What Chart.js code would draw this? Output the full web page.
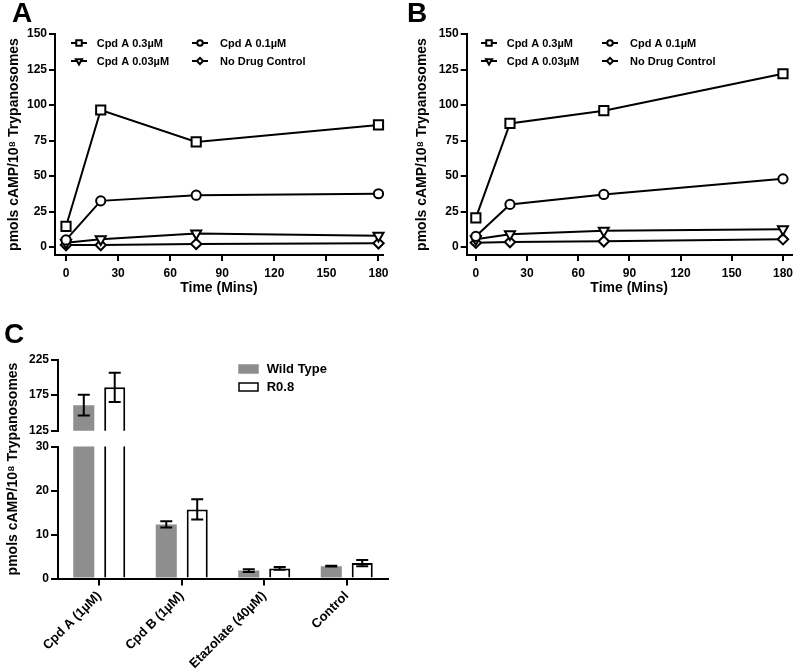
<!DOCTYPE html>
<html><head><meta charset="utf-8">
<script src="https://cdn.jsdelivr.net/npm/chart.js@4.4.1/dist/chart.umd.min.js"></script>
<style>
html,body{margin:0;padding:0;background:#fff;}
#wrap{position:relative;width:800px;height:672px;overflow:hidden;background:#fff;}
canvas{position:absolute;}
</style></head><body>
<div id="wrap">
<canvas id="cA" width="400" height="310" style="left:0;top:0"></canvas>
<canvas id="cB" width="400" height="310" style="left:400px;top:0"></canvas>
<canvas id="cCl" width="400" height="362" style="left:0;top:310px"></canvas>
<canvas id="cCu" width="400" height="130" style="left:0;top:310px"></canvas>
</div>
<script>
// ---------- data ----------
const times = [0, 20, 75, 180];
const seriesLabels = ['Cpd A 0.3µM', 'Cpd A 0.1µM', 'Cpd A 0.03µM', 'No Drug Control'];
const A_cpd03 = [14.5, 96.5, 74, 86];
const A_cpd01 = [5, 32.5, 36.5, 37.5];
const A_cpd003 = [3, 5.5, 9.5, 8];
const A_ctrl = [1.4, 1.4, 2.2, 2.6];
const B_cpd03 = [20.5, 87, 96, 122];
const B_cpd01 = [7.5, 30, 37, 48];
const B_cpd003 = [5.5, 9, 11.5, 12.5];
const B_ctrl = [3, 3.5, 4, 5.5];
const timeTicks = [0, 30, 60, 90, 120, 150, 180];
const yTicksAB = [0, 25, 50, 75, 100, 125, 150];

const categoriesC = ['Cpd A (1µM)', 'Cpd B (1µM)', 'Etazolate (40µM)', 'Control'];
const barLabels = ['Wild Type', 'R0.8'];
const wildType = [161, 12.3, 1.8, 2.8];
const wildTypeErr = [14.5, 0.7, 0.3, 0.1];
const r08 = [186, 15.7, 2.3, 3.5];
const r08Err = [20.5, 2.3, 0.3, 0.7];
const yTicksLow = [0, 10, 20, 30];
const yTicksHigh = [125, 175, 225];

const yTitleText = 'pmols cAMP/10⁸ Trypanosomes';
const xTitleText = 'Time (Mins)';

// ---------- styling ----------
const FONT = 'Arial, "Liberation Sans", Helvetica, sans-serif';
Chart.defaults.font.family = FONT;
Chart.defaults.font.weight = 'bold';
Chart.defaults.color = '#000';
Chart.defaults.animation = false;

const styles = [
  {pointStyle: 'rect', pointRotation: 0, pointRadius: 6.5},
  {pointStyle: 'circle', pointRotation: 0, pointRadius: 4.6},
  {pointStyle: 'triangle', pointRotation: 180, pointRadius: 5.8},
  {pointStyle: 'rectRot', pointRotation: 0, pointRadius: 5.2}
];

const letterPlugin = {
  id: 'panelLetter',
  afterDraw(chart, args, o) {
    const ctx = chart.ctx;
    ctx.save();
    ctx.font = 'bold 28px ' + FONT;
    ctx.fillStyle = '#000';
    ctx.textAlign = 'left';
    ctx.textBaseline = 'alphabetic';
    ctx.fillText(o.text, o.x, o.y);
    ctx.restore();
  }
};

const lineLegend = {
  id: 'lineLegend',
  afterDraw(chart, args, o) {
    const ctx = chart.ctx;
    ctx.save();
    chart.data.datasets.forEach((ds, i) => {
      const s = o.slots[i];
      ctx.strokeStyle = '#000';
      ctx.lineWidth = 2;
      ctx.beginPath();
      ctx.moveTo(s[0] - 8, s[1]);
      ctx.lineTo(s[0] + 8, s[1]);
      ctx.stroke();
      ctx.fillStyle = '#fff';
      Chart.helpers.drawPoint(ctx, {pointStyle: ds.pointStyle, rotation: ds.pointRotation,
        radius: ds.pointRadius * 0.6, borderWidth: 2}, s[0], s[1]);
      ctx.fillStyle = '#000';
      ctx.font = 'bold 11px ' + FONT;
      ctx.textAlign = 'left';
      ctx.textBaseline = 'middle';
      ctx.fillText(ds.label, s[2], s[1] + 0.5);
    });
    ctx.restore();
  }
};

function lineDatasets(arrs) {
  return arrs.map((vals, i) => Object.assign({
    label: seriesLabels[i],
    data: times.map((t, j) => ({x: t, y: vals[j]})),
    borderColor: '#000',
    borderWidth: 2,
    pointBackgroundColor: '#fff',
    pointBorderColor: '#000',
    pointBorderWidth: 2,
    tension: 0,
    clip: false
  }, styles[i]));
}

function timeChart(id, arrs, o) {
  return new Chart(document.getElementById(id), {
    type: 'line',
    data: {datasets: lineDatasets(arrs)},
    plugins: [letterPlugin, lineLegend],
    options: {
      responsive: false,
      devicePixelRatio: 1,
      layout: {padding: {left: 0, top: 34, right: o.padRight, bottom: 0}},
      plugins: {
        legend: {display: false},
        tooltip: {enabled: false},
        panelLetter: o.letter,
        lineLegend: {slots: o.slots}
      },
      scales: {
        x: {
          type: 'linear', min: o.xMin, max: o.xMax,
          afterBuildTicks: s => { s.ticks = timeTicks.map(v => ({value: v})); },
          afterFit: s => { s.height = 55; },
          grid: {drawOnChartArea: false, drawTicks: true, tickLength: 6, color: '#000', lineWidth: 2},
          border: {display: true, color: '#000', width: 2},
          ticks: {font: {size: 12, weight: 'bold'}, color: '#000', padding: 5, maxRotation: 0},
          title: {display: true, text: xTitleText, font: {size: 14, weight: 'bold'}, color: '#000', padding: {top: 0, bottom: 13}}
        },
        y: {
          type: 'linear', min: -5.63, max: 150,
          afterBuildTicks: s => { s.ticks = yTicksAB.map(v => ({value: v})); },
          afterFit: s => { s.width = o.yWidth; },
          grid: {drawOnChartArea: false, drawTicks: true, tickLength: 6, color: '#000', lineWidth: 2},
          border: {display: true, color: '#000', width: 2},
          ticks: {font: {size: 12, weight: 'bold'}, color: '#000', padding: 2},
          title: {display: true, text: yTitleText, font: {size: 14, weight: 'bold'}, color: '#000', padding: {top: o.titlePad, bottom: 0}}
        }
      }
    }
  });
}

timeChart('cA', [A_cpd03, A_cpd01, A_cpd003, A_ctrl], {
  padRight: 17, xMin: -6.34, xMax: 182.6, yWidth: 55, titlePad: 5.6,
  letter: {text: 'A', x: 12, y: 22},
  slots: [[79, 43, 96.7], [200, 43, 220], [79, 61, 96.7], [200, 61, 220]]
});
timeChart('cB', [B_cpd03, B_cpd01, B_cpd003, B_ctrl], {
  padRight: 3, xMin: -5.36, xMax: 185, yWidth: 66.7, titlePad: 13.3,
  letter: {text: 'B', x: 7, y: 22},
  slots: [[89, 43, 106.7], [210, 43, 230], [89, 61, 106.7], [210, 61, 230]]
});

// ---------- panel C ----------
const errorBars = {
  id: 'errorBars',
  afterDatasetsDraw(chart) {
    const ctx = chart.ctx, a = chart.chartArea, ys = chart.scales.y;
    ctx.save();
    ctx.beginPath();
    ctx.rect(a.left, a.top - 1, a.right - a.left, a.bottom - a.top + 2);
    ctx.clip();
    ctx.strokeStyle = '#000';
    ctx.lineWidth = 2;
    chart.data.datasets.forEach((ds, d) => {
      const meta = chart.getDatasetMeta(d);
      meta.data.forEach((el, j) => {
        const v = ds.data[j], e = ds.errors[j];
        const yt = ys.getPixelForValue(v + e), yb = ys.getPixelForValue(v - e);
        const x = el.x, h = 6;
        ctx.beginPath();
        ctx.moveTo(x, yt); ctx.lineTo(x, yb);
        ctx.moveTo(x - h, yt); ctx.lineTo(x + h, yt);
        ctx.moveTo(x - h, yb); ctx.lineTo(x + h, yb);
        ctx.stroke();
      });
    });
    ctx.restore();
  }
};

const cYTitle = {
  id: 'cYTitle',
  afterDraw(chart, args, o) {
    const ctx = chart.ctx;
    ctx.save();
    ctx.translate(o.x, o.y);
    ctx.rotate(-Math.PI / 2);
    ctx.font = 'bold 14px ' + FONT;
    ctx.fillStyle = '#000';
    ctx.textAlign = 'center';
    ctx.textBaseline = 'middle';
    ctx.fillText(yTitleText, 0, 0);
    ctx.restore();
  }
};

const barLegend = {
  id: 'barLegend',
  afterDraw(chart, args, o) {
    const ctx = chart.ctx;
    ctx.save();
    chart.data.datasets.forEach((ds, i) => {
      const y = o.rows[i];
      ctx.fillStyle = ds.backgroundColor;
      ctx.fillRect(o.x, y - 4, 19, 8);
      ctx.strokeStyle = i === 0 ? ds.backgroundColor : '#000';
      ctx.lineWidth = 1.5;
      ctx.strokeRect(o.x, y - 4, 19, 8);
      ctx.fillStyle = '#000';
      ctx.font = 'bold 13px ' + FONT;
      ctx.textAlign = 'left';
      ctx.textBaseline = 'middle';
      ctx.fillText(ds.label, o.textX, y + 0.5);
    });
    ctx.restore();
  }
};

function barDatasets() {
  return [
    {label: barLabels[0], data: wildType, errors: wildTypeErr, backgroundColor: '#8e8e8e',
     borderWidth: 0, categoryPercentage: 0.75, barPercentage: 0.68, clip: 0},
    {label: barLabels[1], data: r08, errors: r08Err, backgroundColor: '#ffffff',
     borderColor: '#000', borderWidth: 2, borderSkipped: 'bottom',
     categoryPercentage: 0.75, barPercentage: 0.68, clip: 0}
  ];
}

const axisCommon = {
  grid: {drawOnChartArea: false, drawTicks: true, tickLength: 7, color: '#000', lineWidth: 2},
  border: {display: true, color: '#000', width: 2}
};

// lower segment (0-30)
new Chart(document.getElementById('cCl'), {
  type: 'bar',
  data: {labels: categoriesC, datasets: barDatasets()},
  plugins: [letterPlugin, errorBars, cYTitle],
  options: {
    responsive: false,
    devicePixelRatio: 1,
    layout: {padding: {left: 0, top: 136.5, right: 12, bottom: 0}},
    plugins: {
      legend: {display: false}, tooltip: {enabled: false},
      panelLetter: {text: 'C', x: 4, y: 33},
      cYTitle: {x: 13.5, y: 159}
    },
    scales: {
      x: Object.assign({}, axisCommon, {
        type: 'category', offset: true,
        grid: Object.assign({}, axisCommon.grid, {offset: false}),
        afterFit: s => { s.height = 93.5; },
        ticks: {font: {size: 13, weight: 'bold'}, color: '#000', padding: 3, minRotation: 45, maxRotation: 45, autoSkip: false}
      }),
      y: Object.assign({}, axisCommon, {
        type: 'linear', min: 0, max: 30,
        afterBuildTicks: s => { s.ticks = yTicksLow.map(v => ({value: v})); },
        afterFit: s => { s.width = 58; },
        ticks: {font: {size: 12, weight: 'bold'}, color: '#000', padding: 2}
      })
    }
  }
});

// upper segment (125-225)
new Chart(document.getElementById('cCu'), {
  type: 'bar',
  data: {labels: categoriesC, datasets: barDatasets()},
  plugins: [errorBars, barLegend],
  options: {
    responsive: false,
    devicePixelRatio: 1,
    layout: {padding: {left: 0, top: 49.5, right: 12, bottom: 9}},
    plugins: {
      legend: {display: false}, tooltip: {enabled: false},
      barLegend: {x: 239, textX: 266.7, rows: [59, 77]}
    },
    scales: {
      x: {type: 'category', offset: true, display: false},
      y: Object.assign({}, axisCommon, {
        type: 'linear', min: 125, max: 225,
        afterBuildTicks: s => { s.ticks = yTicksHigh.map(v => ({value: v})); },
        afterFit: s => { s.width = 58; },
        ticks: {font: {size: 12, weight: 'bold'}, color: '#000', padding: 2}
      })
    }
  }
});
</script>
</body></html>
